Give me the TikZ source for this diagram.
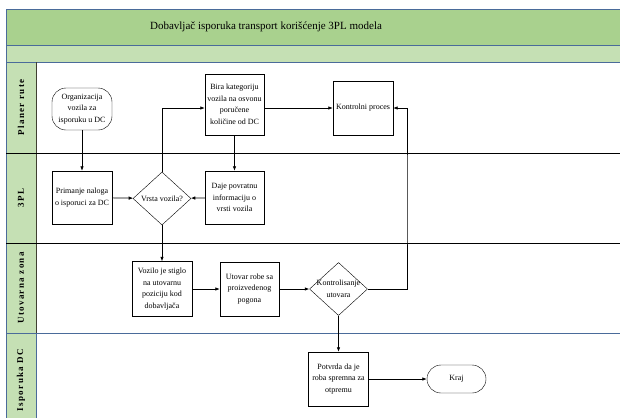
\documentclass[tikz,border=0pt]{standalone}
\usepackage{fontspec}
\setmainfont{Liberation Serif}
\newfontfamily\lanefont[LetterSpace=15]{Liberation Serif}
\usetikzlibrary{shapes.geometric,arrows.meta}

\definecolor{titlegreen}{HTML}{A9D18E}
\definecolor{lightgreen}{HTML}{C5E0B4}
\definecolor{bandblue}{HTML}{4A6B9A}
\definecolor{laneedge}{HTML}{3F3F30}

\begin{document}
\begin{tikzpicture}[x=1pt,y=-1pt,
    box/.style={draw, thin, minimum width=60pt, minimum height=54pt, align=center, inner sep=1pt, font=\fontsize{8}{11.5}\selectfont},
    term/.style={box, rounded corners=14pt},
    dia/.style={draw, thin, diamond, minimum width=58pt, minimum height=53pt, inner sep=0pt},
    dialabel/.style={align=center, inner sep=0pt, font=\fontsize{8}{11.5}\selectfont},
    lane/.style={rotate=90, font=\lanefont\bfseries\fontsize{9}{10}\selectfont},
    flow/.style={-{Latex[length=4.5pt,width=3.5pt]}, line width=0.7pt}]
    \useasboundingbox (0,0) rectangle (620,418);

    % bands and lanes
    \fill[titlegreen] (6,9) rectangle (620,45);
    \fill[lightgreen] (6,45) rectangle (620,62);
    \fill[lightgreen] (6,62) rectangle (36,418);
    \draw[bandblue, line width=1pt] (620,9) -- (6,9) -- (6,418);
    \draw[bandblue, line width=1pt] (6,45) -- (620,45);
    \draw[bandblue, line width=1pt] (6,62) -- (620,62);
    \draw[laneedge, line width=0.8pt] (36,62) -- (36,333);
    \draw[bandblue, line width=0.8pt] (36,333) -- (36,418);
    \draw[line width=0.8pt] (6,153) -- (620,153);
    \draw[line width=0.8pt] (6,243) -- (620,243);
    \draw[bandblue, line width=1pt] (6,333) -- (620,333);

    \node (naslov) at (266,27) {\fontsize{11}{13}\selectfont Dobavljač isporuka transport korišćenje 3PL modela};

    \node[lane] (planer) at (21,107.5) {Planer rute};
    \node[lane] (tripl) at (21,198) {3PL};
    \node[lane] (utovarna) at (21,288) {Utovarna zona};
    \node[lane] (isporuka) at (21,380) {Isporuka DC};

    % steps
    \node[term, minimum height=42pt] (organizacija) at (82,109) {Organizacija\\vozila za\\isporuku u DC};
    \node[box, minimum width=59pt, minimum height=61pt] (bira) at (234.5,104.5) {Bira kategoriju\\vozila na osvonu\\poručene\\količine od DC};
    \node[box] (kontrolni) at (363,108) {Kontrolni proces};
    \node[box, minimum height=53pt] (primanje) at (82,197.5) {Primanje naloga\\o isporuci za DC};
    \node[dia, label={[dialabel]center:Vrsta vozila?}] (vrsta) at (162,198.5) {};
    \node[box, minimum width=59pt, minimum height=53pt] (daje) at (234.5,197.5) {Daje povratnu\\informaciju o\\vrsti vozila};
    \node[box, minimum height=55pt] (vozilo) at (162,289) {Vozilo je stiglo\\na utovarnu\\poziciju kod\\dobavljača};
    \node[box, minimum width=59pt] (utovar) at (249.5,289) {Utovar robe sa\\proizvedenog\\pogona};
    \node[dia, label={[dialabel]center:Kontrolisanje\\utovara}] (kontrolisanje) at (338.5,289) {};
    \node[box] (potvrda) at (338.5,379) {Potvrda da je\\roba spremna za\\otpremu};
    \node[term, minimum width=59pt, minimum height=28pt] (kraj) at (456.5,379) {Kraj};
    \coordinate (povratak) at (407,200);

    % connectors
    \draw[flow] (organizacija) -- (primanje);
    \draw[flow] (primanje) -- (vrsta);
    \draw[flow] (daje) -- (vrsta);
    \draw[flow] (vrsta.north) |- ([yshift=-3.5pt]bira.west);
    \draw[flow] ([yshift=-3.5pt]bira.east) -- (kontrolni.west);
    \draw[flow] (bira) -- (daje);
    \draw[flow] (vrsta) -- (vozilo);
    \draw[flow] (vozilo) -- (utovar);
    \draw[flow] (utovar) -- (kontrolisanje);
    \draw[flow] (kontrolisanje.east) -| (povratak) |- (kontrolni.east);
    \draw[flow] (kontrolisanje) -- (potvrda);
    \draw[flow] (potvrda) -- (kraj);
\end{tikzpicture}
\end{document}
